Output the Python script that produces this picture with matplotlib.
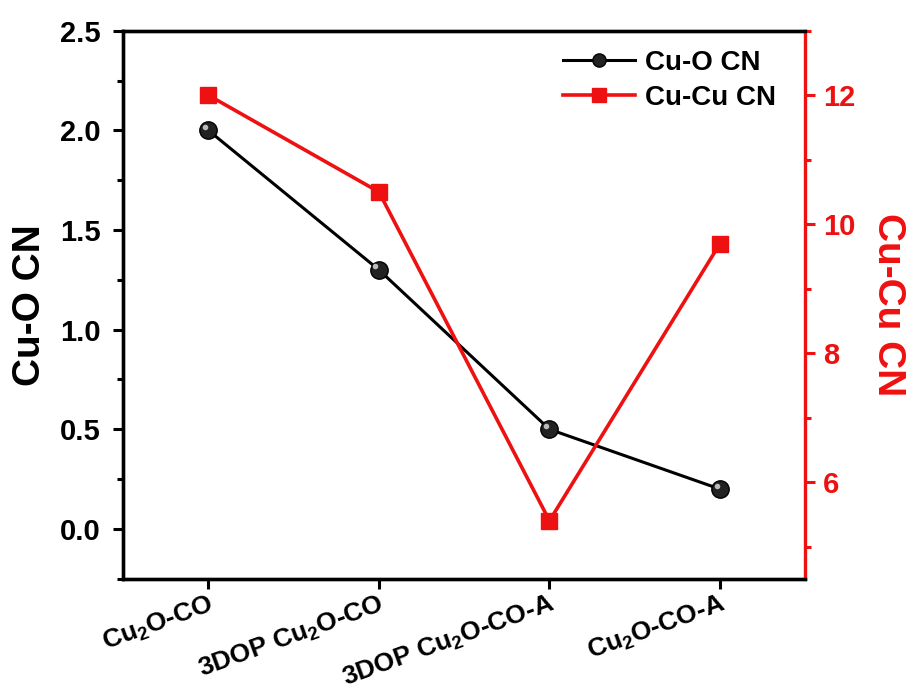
import matplotlib
matplotlib.use("Agg")
import matplotlib.pyplot as plt
from matplotlib.ticker import MultipleLocator
from matplotlib.transforms import ScaledTranslation

# data
samples = [r"Cu$_\mathbf{2}$O-CO", r"3DOP Cu$_\mathbf{2}$O-CO",
           r"3DOP Cu$_\mathbf{2}$O-CO-A", r"Cu$_\mathbf{2}$O-CO-A"]
cu_o_cn = [2.0, 1.3, 0.5, 0.2]
cu_cu_cn = [12.0, 10.5, 5.4, 9.7]

plt.rcParams["font.family"] = ["Liberation Sans", "DejaVu Sans"]
plt.rcParams["font.weight"] = "bold"
plt.rcParams["mathtext.fontset"] = "custom"
plt.rcParams["mathtext.rm"] = "Liberation Sans:bold"
plt.rcParams["mathtext.bf"] = "Liberation Sans:bold"
plt.rcParams["mathtext.it"] = "Liberation Sans:bold:italic"

red = "#ee1111"
x = list(range(len(samples)))

fig = plt.figure(figsize=(9.12, 6.99), dpi=100)
ax = fig.add_axes([0.135, 0.172, 0.748, 0.784])
ax2 = ax.twinx()

l1, = ax.plot(x, cu_o_cn, color="black", lw=2.2, marker="o", ms=12.5,
              markerfacecolor="#222222", markeredgecolor="black", zorder=3)
# sphere highlight
shift = ScaledTranslation(-2.5 / 72, 2.5 / 72, fig.dpi_scale_trans)
ax.plot(x, cu_o_cn, ls="none", marker="o", ms=4, color="#bbbbbb",
        markeredgewidth=0, zorder=4, transform=ax.transData + shift)
l2, = ax2.plot(x, cu_cu_cn, color=red, lw=2.6, marker="s", ms=11.5,
               markeredgecolor=red, markerfacecolor=red)

ax.set_xlim(-0.5, 3.5)
ax.set_ylim(-0.25, 2.5)
ax2.set_ylim(4.5, 13)

ax.yaxis.set_major_locator(MultipleLocator(0.5))
ax.yaxis.set_minor_locator(MultipleLocator(0.25))
ax2.yaxis.set_major_locator(MultipleLocator(2))
ax2.yaxis.set_minor_locator(MultipleLocator(1))

ax.set_xticks(x)
ax.set_xticklabels(samples, rotation=20, ha="right", rotation_mode="anchor",
                   fontsize=19, fontweight="bold")
ax.tick_params(axis="x", which="major", length=7, width=2.2, direction="out", pad=2)
ax.tick_params(axis="y", which="major", length=7, width=2.2, labelsize=21, pad=9)
ax.tick_params(axis="y", which="minor", length=4, width=2.2)
ax2.tick_params(axis="y", which="major", length=7, width=2.2, labelsize=21,
                colors=red, pad=6)
ax2.tick_params(axis="y", which="minor", length=4, width=2.2, colors=red)

for sp in ["left", "bottom", "top"]:
    ax.spines[sp].set_linewidth(2.4)
    ax2.spines[sp].set_linewidth(2.4)
ax2.spines["right"].set_linewidth(2.4)
ax2.spines["right"].set_color(red)
ax.spines["right"].set_visible(False)

ax.set_ylabel("Cu-O CN", fontsize=28, fontweight="bold", labelpad=9)
ax2.set_ylabel("Cu-Cu CN", fontsize=28, fontweight="bold", color=red,
               rotation=270, labelpad=36)

leg = ax.legend([l1, l2], ["Cu-O CN", "Cu-Cu CN"], loc="upper right",
                bbox_to_anchor=(0.985, 1.0), frameon=False, fontsize=20,
                handlelength=2.6, borderaxespad=0.3, labelspacing=0.3,
                handletextpad=0.35)
for h in leg.legend_handles:
    h.set_markersize(9.5)

fig.savefig("out.png", dpi=100)
